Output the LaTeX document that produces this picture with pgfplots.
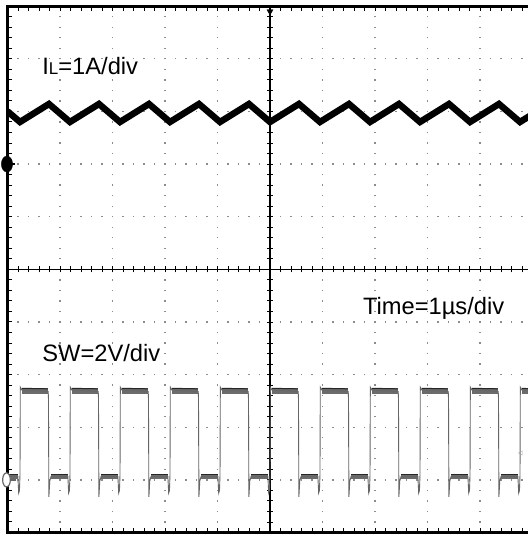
\documentclass[border=0pt]{standalone}
\usepackage{pgfplots}
\pgfplotsset{compat=1.18}
\usepackage{fontspec}
\setmainfont{Liberation Sans}
\pgfplotsset{scopebox/.style={at={(7.5bp,1.5bp)}, anchor=south west, width=525bp, height=526.3bp, scale only axis, xmin=0, xmax=10, ymin=0, ymax=10}}
\begin{document}
\begin{tikzpicture}
\useasboundingbox (0,0) rectangle (528bp,534bp);
\fill[white] (0,0) rectangle (528bp,534bp);
% frame, border ticks, dotted grid
\begin{axis}[scopebox,
  xtick={0,1,...,10}, ytick={0,1,...,10}, minor tick num=4,
  xticklabels={}, yticklabels={}, tick align=inside,
  major tick length=5bp, minor tick length=5bp,
  every tick/.style={black, line width=1bp},
  axis line style={black, line width=3bp},
  xmajorgrids, ymajorgrids,
  major x grid style={black!45, line width=1.3bp, dash pattern=on 1.3bp off 9.226bp, dash phase=0.65bp},
  major y grid style={black!45, line width=1.3bp, dash pattern=on 1.3bp off 9.2bp, dash phase=0.65bp}]
\addplot[draw=none] coordinates {(0,0)};
\end{axis}
% centre cross
\begin{axis}[scopebox, xmin=-5, xmax=5, ymin=-5, ymax=5, axis lines=middle,
  axis line style={-, black, line width=1.2bp},
  xtick={-5,-4,...,5}, ytick={-5,-4,...,5}, minor tick num=4,
  xticklabels={}, yticklabels={}, tick align=center,
  major tick length=6bp, minor tick length=6bp,
  every tick/.style={black, line width=0.9bp}]
\addplot[draw=none] coordinates {(0,0)};
\end{axis}
% traces
\begin{axis}[scopebox, hide axis]
% SW plateau noise bands
\addplot[black!58, line width=6.5bp, unbounded coords=jump] coordinates {
(0.268,2.69) (0.770,2.69) (0.8,nan)
(1.220,2.69) (1.723,2.69) (1.75,nan)
(2.173,2.69) (2.675,2.69) (2.7,nan)
(3.125,2.69) (3.628,2.69) (3.65,nan)
(4.078,2.69) (4.580,2.69) (4.6,nan)
(5.030,2.69) (5.532,2.69) (5.55,nan)
(5.982,2.69) (6.485,2.69) (6.5,nan)
(6.935,2.69) (7.437,2.69) (7.45,nan)
(7.887,2.69) (8.390,2.69) (8.4,nan)
(8.840,2.69) (9.342,2.69) (9.35,nan)
(9.792,2.69) (10,2.69)};
\addplot[black!85, line width=1bp, unbounded coords=jump] coordinates {
(0.268,2.74) (0.770,2.73) (0.8,nan)
(1.220,2.74) (1.723,2.73) (1.75,nan)
(2.173,2.74) (2.675,2.73) (2.7,nan)
(3.125,2.74) (3.628,2.73) (3.65,nan)
(4.078,2.74) (4.580,2.73) (4.6,nan)
(5.030,2.74) (5.532,2.73) (5.55,nan)
(5.982,2.74) (6.485,2.73) (6.5,nan)
(6.935,2.74) (7.437,2.73) (7.45,nan)
(7.887,2.74) (8.390,2.73) (8.4,nan)
(8.840,2.74) (9.342,2.73) (9.35,nan)
(9.792,2.74) (10,2.73)};
\addplot[black!58, line width=5bp, unbounded coords=jump] coordinates {
(0,1.064) (0.198,1.064) (0.2,nan)
(0.830,1.064) (1.150,1.064) (1.16,nan)
(1.783,1.064) (2.103,1.064) (2.11,nan)
(2.735,1.064) (3.055,1.064) (3.06,nan)
(3.688,1.064) (4.008,1.064) (4.01,nan)
(4.640,1.064) (4.960,1.064) (4.97,nan)
(5.592,1.064) (5.912,1.064) (5.92,nan)
(6.545,1.064) (6.865,1.064) (6.87,nan)
(7.497,1.064) (7.817,1.064) (7.82,nan)
(8.450,1.064) (8.770,1.064) (8.78,nan)
(9.402,1.064) (9.722,1.064)};
\addplot[black!85, line width=0.9bp, unbounded coords=jump] coordinates {
(0,1.10) (0.198,1.10) (0.2,nan)
(0.830,1.10) (1.150,1.10) (1.16,nan)
(1.783,1.10) (2.103,1.10) (2.11,nan)
(2.735,1.10) (3.055,1.10) (3.06,nan)
(3.688,1.10) (4.008,1.10) (4.01,nan)
(4.640,1.10) (4.960,1.10) (4.97,nan)
(5.592,1.10) (5.912,1.10) (5.92,nan)
(6.545,1.10) (6.865,1.10) (6.87,nan)
(7.497,1.10) (7.817,1.10) (7.82,nan)
(8.450,1.10) (8.770,1.10) (8.78,nan)
(9.402,1.10) (9.722,1.10)};
% SW trace
\addplot[black!60, line width=0.9bp] coordinates {
(0,1.064)
(0.198,1.064) (0.213,0.75) (0.228,0.80) (0.238,1.10) (0.244,2.76) (0.268,2.71) (0.775,2.68) (0.780,2.55) (0.788,0.675) (0.805,0.98) (0.830,1.064)
(1.150,1.064) (1.165,0.75) (1.180,0.80) (1.190,1.10) (1.196,2.76) (1.220,2.71) (1.728,2.68) (1.733,2.55) (1.741,0.675) (1.758,0.98) (1.783,1.064)
(2.103,1.064) (2.118,0.75) (2.133,0.80) (2.143,1.10) (2.149,2.76) (2.173,2.71) (2.680,2.68) (2.685,2.55) (2.693,0.675) (2.710,0.98) (2.735,1.064)
(3.055,1.064) (3.070,0.75) (3.085,0.80) (3.095,1.10) (3.101,2.76) (3.125,2.71) (3.633,2.68) (3.638,2.55) (3.646,0.675) (3.663,0.98) (3.688,1.064)
(4.008,1.064) (4.023,0.75) (4.038,0.80) (4.048,1.10) (4.054,2.76) (4.078,2.71) (4.585,2.68) (4.590,2.55) (4.598,0.675) (4.615,0.98) (4.640,1.064)
(4.960,1.064) (4.975,0.75) (4.990,0.80) (5.000,1.10) (5.006,2.76) (5.030,2.71) (5.537,2.68) (5.542,2.55) (5.550,0.675) (5.567,0.98) (5.592,1.064)
(5.912,1.064) (5.927,0.75) (5.942,0.80) (5.952,1.10) (5.958,2.76) (5.982,2.71) (6.490,2.68) (6.495,2.55) (6.503,0.675) (6.520,0.98) (6.545,1.064)
(6.865,1.064) (6.880,0.75) (6.895,0.80) (6.905,1.10) (6.911,2.76) (6.935,2.71) (7.442,2.68) (7.447,2.55) (7.455,0.675) (7.472,0.98) (7.497,1.064)
(7.817,1.064) (7.832,0.75) (7.847,0.80) (7.857,1.10) (7.863,2.76) (7.887,2.71) (8.395,2.68) (8.400,2.55) (8.408,0.675) (8.425,0.98) (8.450,1.064)
(8.770,1.064) (8.785,0.75) (8.800,0.80) (8.810,1.10) (8.816,2.76) (8.840,2.71) (9.347,2.68) (9.352,2.55) (9.360,0.675) (9.377,0.98) (9.402,1.064)
(9.722,1.064) (9.737,0.75) (9.752,0.80) (9.762,1.10) (9.768,2.76) (9.792,2.71) (10,2.69)};
% IL trace
\addplot[black, line width=6.5bp, line join=miter] coordinates {
(0,8.003) (0.238,7.800) (0.790,8.142) (1.190,7.800) (1.743,8.142) (2.143,7.800) (2.695,8.142) (3.095,7.800) (3.648,8.142) (4.048,7.800) (4.600,8.142) (5.000,7.800) (5.552,8.142) (5.952,7.800) (6.505,8.142) (6.905,7.800) (7.457,8.142) (7.857,7.800) (8.410,8.142) (8.810,7.800) (9.362,8.142) (9.762,7.800) (10,7.947)};
\end{axis}
% markers and labels
\begin{axis}[scopebox, hide axis, clip=false]
\addplot[black, line width=2bp] coordinates {(0,7) (0.15,7)};
\addplot[only marks, mark=*, mark size=8bp, mark options={xscale=0.7, fill=black, draw=black}] coordinates {(-0.01,7)};
\addplot[black!60, line width=1.5bp] coordinates {(0.03,1) (0.16,1)};
\addplot[only marks, mark=*, mark size=7bp, mark options={xscale=0.55, fill=white, draw=black!60, line width=1.2bp}] coordinates {(-0.019,1)};
\node[text=black!60, font=\fontsize{8bp}{8bp}\selectfont, inner sep=0pt] at (axis cs:-0.019,1) {1};
\addplot[only marks, mark=triangle*, mark size=3.5bp, mark options={rotate=180, fill=black, draw=black}] coordinates {(5,9.9)};
\addplot[only marks, mark=triangle, mark size=2.5bp, mark options={rotate=90, draw=black!35}] coordinates {(9.781,1.511)};
\node[anchor=base west, inner sep=0pt, font=\fontsize{23.7bp}{28bp}\selectfont] at (axis cs:0.66,8.693) {I{\fontsize{17bp}{17bp}\selectfont L}=1A/div};
\node[anchor=base west, inner sep=0pt, font=\fontsize{23.7bp}{28bp}\selectfont] at (axis cs:0.661,3.240) {SW=2V/div};
\node[anchor=base west, inner sep=0pt, font=\fontsize{23.7bp}{28bp}\selectfont] at (axis cs:6.768,4.133) {Time=1µs/div};
\end{axis}
\end{tikzpicture}
\end{document}
